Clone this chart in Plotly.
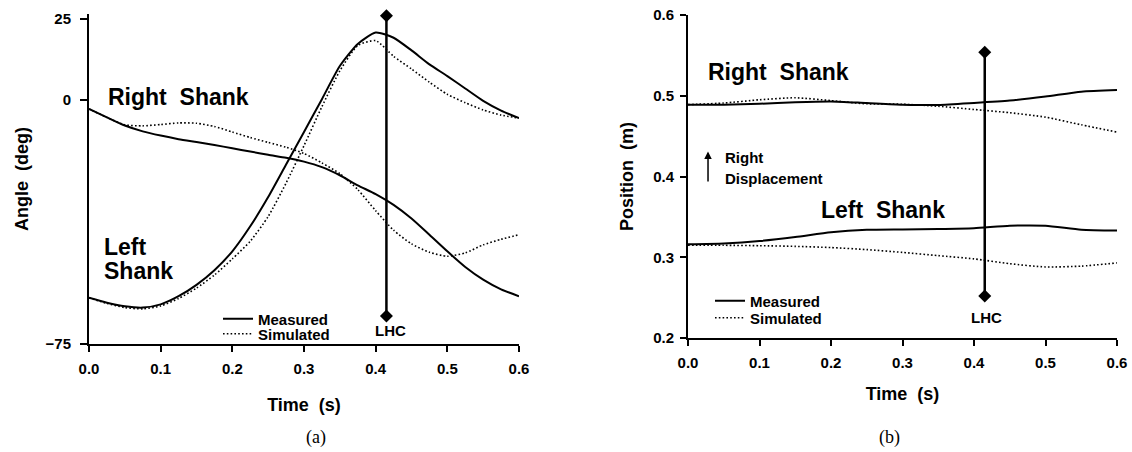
import plotly.graph_objects as go

# ---------------- data ----------------
time_a = [0.0, 0.025, 0.05, 0.075, 0.1, 0.125, 0.15, 0.175, 0.2, 0.225, 0.25, 0.275,
          0.3, 0.325, 0.35, 0.375, 0.4, 0.425, 0.45, 0.475, 0.5, 0.525, 0.55, 0.575, 0.6]
right_angle_meas = [-2.7, -5.3, -7.8, -9.6, -10.9, -12.0, -12.9, -13.8, -14.8, -15.8, -16.8, -17.7,
                    -18.9, -20.6, -23.1, -26.2, -28.9, -32.2, -36.4, -41.4, -46.5, -51.3, -55.2, -58.2, -60.3]
right_angle_sim = [-2.7, -5.3, -7.6, -7.9, -7.5, -7.0, -7.1, -8.1, -9.8, -11.5, -13.0, -14.5,
                   -16.4, -19.3, -22.6, -27.5, -34.0, -40.0, -44.2, -46.8, -48.0, -47.0, -44.5, -42.8, -41.4]
left_angle_meas = [-60.8, -62.3, -63.4, -63.8, -62.8, -60.3, -56.8, -52.3, -46.5, -38.8, -29.8, -19.8,
                   -9.8, 0.3, 10.5, 17.3, 20.8, 19.2, 15.3, 11.0, 7.4, 3.6, -0.2, -3.2, -5.5]
left_angle_sim = [-60.8, -62.5, -63.8, -64.2, -63.3, -61.0, -57.8, -53.8, -48.8, -43.4, -35.8, -25.5,
                  -14.0, -2.0, 9.0, 16.8, 18.3, 13.5, 9.6, 5.5, 1.8, -0.8, -3.0, -4.6, -5.5]

time_b = [0.0, 0.05, 0.1, 0.15, 0.2, 0.25, 0.3, 0.35, 0.4, 0.45, 0.5, 0.55, 0.6]
right_pos_meas = [0.489, 0.489, 0.490, 0.492, 0.493, 0.491, 0.489, 0.4885, 0.491, 0.494, 0.499, 0.505, 0.507]
right_pos_sim = [0.489, 0.491, 0.495, 0.4975, 0.494, 0.490, 0.4895, 0.487, 0.483, 0.479, 0.4735, 0.464, 0.455]
left_pos_meas = [0.316, 0.317, 0.320, 0.325, 0.331, 0.334, 0.3345, 0.335, 0.336, 0.339, 0.339, 0.334, 0.333]
left_pos_sim = [0.315, 0.3148, 0.3143, 0.3135, 0.312, 0.3095, 0.306, 0.302, 0.298, 0.292, 0.288, 0.289, 0.293]

lhc_time = [0.415, 0.415]
lhc_angle = [26.0, -66.4]
lhc_pos = [0.554, 0.252]

angle_ticks = [-75, 0, 25]
angle_ticktext = ["\u221275", "0", "25"]
pos_ticks = [0.2, 0.3, 0.4, 0.5, 0.6]
time_ticks = [0.0, 0.1, 0.2, 0.3, 0.4, 0.5, 0.6]

# ---------------- figure ----------------
FONT = "Liberation Sans"
W, H = 1132, 452
solid = dict(color="black", width=2)
dotted = dict(color="black", width=1.6, dash="1.6px,2.2px")

fig = go.Figure()

def add_pair(x, ym, ys, xa, ya, legm, legs, show):
    fig.add_trace(go.Scatter(x=x, y=ym, mode="lines", line=dict(**solid, shape="spline", smoothing=0.6),
                             name="Measured", xaxis=xa, yaxis=ya, legend=legm, showlegend=show,
                             hoverinfo="skip"))
    fig.add_trace(go.Scatter(x=x, y=ys, mode="lines", line=dict(**dotted, shape="spline", smoothing=0.6),
                             name="Simulated", xaxis=xa, yaxis=ya, legend=legs, showlegend=show,
                             hoverinfo="skip"))

add_pair(time_a, right_angle_meas, right_angle_sim, "x", "y", "legend", "legend2", True)
add_pair(time_a, left_angle_meas, left_angle_sim, "x", "y", "legend", "legend2", False)
add_pair(time_b, right_pos_meas, right_pos_sim, "x2", "y2", "legend3", "legend4", True)
add_pair(time_b, left_pos_meas, left_pos_sim, "x2", "y2", "legend3", "legend4", False)

for xa, ya, yv in (("x", "y", lhc_angle), ("x2", "y2", lhc_pos)):
    fig.add_trace(go.Scatter(x=lhc_time, y=yv, mode="lines+markers", xaxis=xa, yaxis=ya,
                             line=dict(color="black", width=2.5),
                             marker=dict(symbol="diamond", size=10, color="black"),
                             cliponaxis=False, showlegend=False, hoverinfo="skip"))

tickfont = dict(family=FONT, size=15, color="black", weight="bold")
titlefont = dict(family=FONT, size=18, color="black", weight="bold")
axis_common = dict(showline=True, linewidth=2, linecolor="black", ticks="outside",
                   tickwidth=1.5, tickcolor="black", showgrid=False, zeroline=False,
                   tickfont=tickfont, automargin=False)

fig.update_layout(
    width=W, height=H, margin=dict(l=0, r=0, t=0, b=0),
    paper_bgcolor="white", plot_bgcolor="white",
    xaxis=dict(domain=[89 / W, 519 / W], range=[0, 0.6], tickvals=time_ticks, tickformat=".1f",
               anchor="y", ticklen=6, ticklabelstandoff=4,
               title=dict(text="Time\u00a0\u00a0(s)", font=titlefont, standoff=22), **axis_common),
    yaxis=dict(domain=[(H - 344) / H, (H - 14) / H], range=[-75, 26.5], tickvals=angle_ticks,
               ticktext=angle_ticktext, anchor="x", ticklen=7, ticklabelstandoff=6,
               title=dict(text="Angle\u00a0\u00a0(deg)", font=titlefont, standoff=12), **axis_common),
    xaxis2=dict(domain=[688 / W, 1117 / W], range=[0, 0.6], tickvals=time_ticks, tickformat=".1f",
                anchor="y2", ticklen=6, ticklabelstandoff=4,
                title=dict(text="Time\u00a0\u00a0(s)", font=titlefont, standoff=17), **axis_common),
    yaxis2=dict(domain=[(H - 338) / H, (H - 15) / H], range=[0.2, 0.6], tickvals=pos_ticks,
                tickformat=".1f", anchor="x2", ticklen=6, ticklabelstandoff=3,
                title=dict(text="Position\u00a0\u00a0(m)", font=titlefont, standoff=15), **axis_common),
)

legfont = dict(family=FONT, size=15, color="black", weight="bold")
def leg(xpx, ycenter):
    return dict(x=xpx / W, y=(H - ycenter + 15.5) / H, xanchor="left", yanchor="top",
                bgcolor="rgba(0,0,0,0)", font=legfont, borderwidth=0)

fig.update_layout(legend=leg(218, 318), legend2=leg(218, 333),
                  legend3=leg(710, 300), legend4=leg(710, 317))

big = dict(family=FONT, size=23, color="black", weight="bold")
small = dict(family=FONT, size=15, color="black", weight="bold")
ann = [
    dict(x=0.024, y=1.0, xref="x", yref="y", text="Right\u00a0\u00a0Shank", font=big, xanchor="left"),
    dict(x=0.018, y=-45.2, xref="x", yref="y", text="Left", font=big, xanchor="left"),
    dict(x=0.018, y=-52.6, xref="x", yref="y", text="Shank", font=big, xanchor="left"),
    dict(x=0.42, y=-70.7, xref="x", yref="y", text="LHC", font=small),
    dict(x=0.025, y=0.529, xref="x2", yref="y2", text="Right\u00a0\u00a0Shank", font=big, xanchor="left"),
    dict(x=0.183, y=0.3585, xref="x2", yref="y2", text="Left\u00a0\u00a0Shank", font=big, xanchor="left"),
    dict(x=0.049, y=0.424, xref="x2", yref="y2", text="Right", font=small, xanchor="left"),
    dict(x=0.049, y=0.398, xref="x2", yref="y2", text="Displacement", font=small, xanchor="left"),
    dict(x=0.417, y=0.2248, xref="x2", yref="y2", text="LHC", font=small),
    dict(x=304 / W, y=(H - 437) / H, xref="paper", yref="paper", text="(a)", yanchor="middle",
         font=dict(family="Liberation Serif", size=18, color="black")),
    dict(x=902 / W, y=(H - 437) / H, xref="paper", yref="paper", text="(b)", yanchor="middle",
         font=dict(family="Liberation Serif", size=18, color="black")),
]
for a in ann:
    a.setdefault("showarrow", False)
    fig.add_annotation(**a)

fig.add_annotation(x=0.028, y=0.431, xref="x2", yref="y2", ax=0.028, ay=0.392,
                   axref="x2", ayref="y2", text="", showarrow=True, arrowhead=2,
                   arrowsize=1, arrowwidth=1.5, arrowcolor="black")

fig.write_html("out.html")
